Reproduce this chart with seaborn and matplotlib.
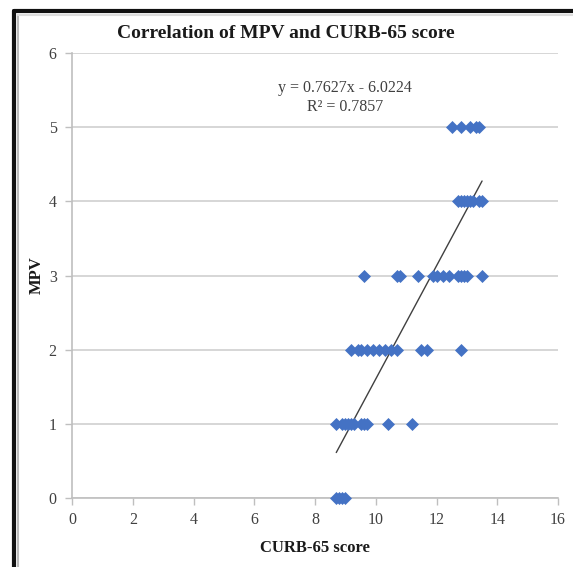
import matplotlib
matplotlib.use("Agg")
import matplotlib.pyplot as plt
import seaborn as sns
import numpy as np
import pandas as pd
from matplotlib.lines import Line2D

# ---- data ----
curb_y0 = [8.7, 8.8, 8.9, 9.0]
curb_y1 = [8.7, 8.9, 9.0, 9.1, 9.2, 9.3, 9.5, 9.6, 9.7, 10.4, 11.2]
curb_y2 = [9.2, 9.4, 9.5, 9.7, 9.9, 10.1, 10.3, 10.5, 10.7, 11.5, 11.7, 12.8]
curb_y3 = [9.6, 10.7, 10.8, 11.4, 11.9, 12.0, 12.2, 12.4, 12.7, 12.8, 12.9, 13.0, 13.5]
curb_y4 = [12.7, 12.8, 12.9, 13.0, 13.1, 13.2, 13.4, 13.5]
curb_y5 = [12.5, 12.8, 13.1, 13.3, 13.4]
mpv_levels = [0, 1, 2, 3, 4, 5]
slope = 0.7627
intercept = -6.0224
r_squared = 0.7857
x_ticks = [0, 2, 4, 6, 8, 10, 12, 14, 16]
y_ticks = [0, 1, 2, 3, 4, 5, 6]

groups = [curb_y0, curb_y1, curb_y2, curb_y3, curb_y4, curb_y5]
df = pd.DataFrame({
    "CURB-65 score": [x for g in groups for x in g],
    "MPV": [lvl for lvl, g in zip(mpv_levels, groups) for _ in g],
})

sns.set_theme(style="white")
plt.rcParams['font.family'] = ['Liberation Serif', 'DejaVu Serif']

fig = plt.figure(figsize=(5.73, 5.67), dpi=100)
ax = fig.add_axes([72/573, 1-498/567, (558-72)/573, (498-53)/567])

ax.set_xlim(0, 16)
ax.set_ylim(0, 6)
ax.set_xticks(x_ticks)
ax.set_yticks(y_ticks)
ax.yaxis.grid(True, color="#d0d0d0", linewidth=1.2)
ax.set_axisbelow(True)

# trendline
xs = np.array([df["CURB-65 score"].min(), df["CURB-65 score"].max()])
ax.plot(xs, slope * xs + intercept, color="#404040", linewidth=1.0, zorder=3)

sns.scatterplot(data=df, x="CURB-65 score", y="MPV", marker="D", s=44,
                color="#4472C4", linewidth=0, ax=ax, zorder=4, clip_on=False)

for side in ["top", "right"]:
    ax.spines[side].set_visible(False)
for side in ["left", "bottom"]:
    ax.spines[side].set_color("#bfbfbf")
    ax.spines[side].set_linewidth(1.2)

ax.tick_params(axis="both", which="both", length=5, width=1, color="#bfbfbf",
               labelsize=11.5, labelcolor="#404040", direction="out",
               bottom=True, left=True)
ax.tick_params(axis="x", pad=5)
ax.tick_params(axis="y", pad=6)

ax.set_xlabel("CURB-65 score", fontsize=12, fontweight="bold", color="#1a1a1a", labelpad=9)
ax.set_ylabel("MPV", fontsize=12, fontweight="bold", color="#1a1a1a", labelpad=3)

fig.text(286/573, 1-34/567, "Correlation of MPV and CURB-65 score", ha="center", va="center",
         fontsize=14, fontweight="bold", color="#1a1a1a")

ax.text(9.0, 5.53, "y = 0.7627x - 6.0224", ha="center", va="center", fontsize=11.5, color="#404040")
ax.text(9.0, 5.27, "R\u00b2 = %.4f" % r_squared, ha="center", va="center", fontsize=11.5, color="#404040")

# frame (dark border at left/top as in reference)
fig.add_artist(Line2D([14/573, 14/573], [0, 1-11/567], transform=fig.transFigure,
                      color="#111111", linewidth=3.0))
fig.add_artist(Line2D([14/573, 1], [1-11/567, 1-11/567], transform=fig.transFigure,
                      color="#111111", linewidth=3.0))
fig.add_artist(Line2D([18/573, 18/573], [0, 1-15/567], transform=fig.transFigure,
                      color="#bbbbbb", linewidth=1.5))
fig.add_artist(Line2D([18/573, 1], [1-15/567, 1-15/567], transform=fig.transFigure,
                      color="#dddddd", linewidth=1.5))

fig.savefig("out.png", dpi=100)
